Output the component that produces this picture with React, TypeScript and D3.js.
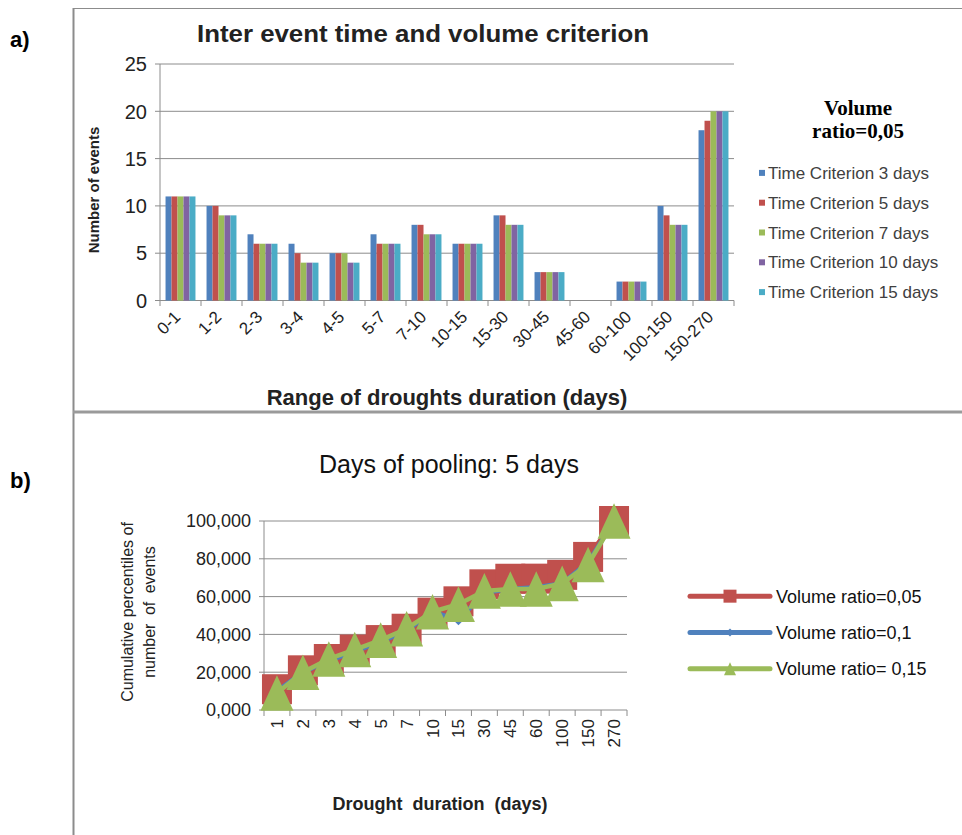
import { useEffect, useRef } from 'react';
import * as d3 from 'd3';

// a) number of events per duration range
const rangeLabels = ["0-1", "1-2", "2-3", "3-4", "4-5", "5-7", "7-10", "10-15", "15-30", "30-45", "45-60", "60-100", "100-150", "150-270"];
const criterionNames = ["Time Criterion 3 days", "Time Criterion 5 days", "Time Criterion 7 days", "Time Criterion 10 days", "Time Criterion 15 days"];
const tc3 = [11, 10, 7, 6, 5, 7, 8, 6, 9, 3, 0, 2, 10, 18];
const tc5 = [11, 10, 6, 5, 5, 6, 8, 6, 9, 3, 0, 2, 9, 19];
const tc7 = [11, 9, 6, 4, 5, 6, 7, 6, 8, 3, 0, 2, 8, 20];
const tc10 = [11, 9, 6, 4, 4, 6, 7, 6, 8, 3, 0, 2, 8, 20];
const tc15 = [11, 9, 6, 4, 4, 6, 7, 6, 8, 3, 0, 2, 8, 20];
const countTicks = [0, 5, 10, 15, 20, 25];

// b) cumulative percentiles, 5 days of pooling
const durations = ["1", "2", "3", "4", "5", "7", "10", "15", "30", "45", "60", "100", "150", "270"];
const ratioNames = ["Volume ratio=0,05", "Volume ratio=0,1", "Volume ratio= 0,15"];
const ratio005 = [11, 21, 27, 32, 37, 43, 51.5, 57.5, 66.5, 69.5, 69.5, 71.5, 81, 100];
const ratio01 = [10, 20, 26, 31, 36, 42, 52, 47.5, 62, 64, 65, 67, 78, 100];
const ratio015 = [9, 20, 27, 32, 37, 43, 52, 56, 63, 64, 64, 67, 77, 100];
const pctTicks = [0, 20, 40, 60, 80, 100];

const barColors = ["#4F81BD", "#C0504D", "#9BBB59", "#8064A2", "#4BACC6"];
const lineColors = ["#C0504D", "#4F81BD", "#9BBB59"];
const SANS = "'Liberation Sans', Arial, sans-serif";
const SERIF = "'Liberation Serif', 'Times New Roman', serif";

function marker(kind: string, x: number, y: number, s: number) {
  if (kind === "square") return `M${x - s / 2},${y - s / 2}h${s}v${s}h${-s}Z`;
  if (kind === "diamond") return `M${x},${y - s / 2}L${x + s / 2},${y}L${x},${y + s / 2}L${x - s / 2},${y}Z`;
  const h = s * 1.08;
  return `M${x},${y - h / 2}L${x + s / 2},${y + h / 2}L${x - s / 2},${y + h / 2}Z`;
}

// 20 -> "20,000"
const pctFormat = (v: number) => d3.format(".3f")(v).replace(".", ",");

export default function App() {
  const svgRef = useRef<SVGSVGElement>(null);

  useEffect(() => {
    if (!svgRef.current) return;
    const svg = d3.select(svgRef.current);
    svg.selectAll("*").remove();

    // panel frames
    svg.append("line").attr("x1", 73).attr("x2", 962).attr("y1", 8.5).attr("y2", 8.5).attr("stroke", "#8c8c8c");
    svg.append("line").attr("x1", 73.5).attr("x2", 73.5).attr("y1", 8).attr("y2", 835).attr("stroke", "#8c8c8c").attr("stroke-width", 2);
    svg.append("line").attr("x1", 73).attr("x2", 962).attr("y1", 412).attr("y2", 412).attr("stroke", "#9a9a9a").attr("stroke-width", 3);

    svg.append("text").attr("x", 10).attr("y", 47).text("a)")
      .attr("font-family", SANS).attr("font-weight", "bold").attr("font-size", 22);
    svg.append("text").attr("x", 10).attr("y", 488).text("b)")
      .attr("font-family", SANS).attr("font-weight", "bold").attr("font-size", 22);

    // ---------- a) grouped bars ----------
    const series = [tc3, tc5, tc7, tc10, tc15];
    const x0 = d3.scaleBand<string>().domain(rangeLabels).range([160, 734]).paddingInner(0.27).paddingOuter(0.135);
    const xt = d3.scaleBand<string>().domain(rangeLabels).range([160, 734]);
    const x1 = d3.scaleBand<number>().domain(d3.range(series.length)).range([0, x0.bandwidth()]);
    const y = d3.scaleLinear().domain([0, 25]).range([300.5, 64]);

    const a = svg.append("g");
    a.append("text").attr("x", 423).attr("y", 42).attr("text-anchor", "middle")
      .attr("font-family", SANS).attr("font-weight", "bold").attr("font-size", 24).attr("fill", "#222")
      .attr("textLength", 452).attr("lengthAdjust", "spacingAndGlyphs")
      .text("Inter event time and volume criterion");

    a.selectAll(".grid").data(countTicks).join("line")
      .attr("x1", 155).attr("x2", 734).attr("y1", d => y(d)).attr("y2", d => y(d))
      .attr("stroke", "#8c8c8c");
    a.selectAll(".ylab").data(countTicks).join("text")
      .attr("x", 147).attr("y", d => y(d)).attr("dy", "0.36em").attr("text-anchor", "end")
      .attr("font-family", SANS).attr("font-size", 20).attr("fill", "#222").text(d => d);
    a.append("line").attr("x1", 160).attr("x2", 160).attr("y1", 64).attr("y2", 300.5).attr("stroke", "#8c8c8c");

    series.forEach((vals, i) => {
      a.append("g").selectAll("rect").data(vals).join("rect")
        .attr("x", (d, j) => (x0(rangeLabels[j]) ?? 0) + (x1(i) ?? 0))
        .attr("width", x1.bandwidth())
        .attr("y", d => y(d))
        .attr("height", d => y(0) - y(d))
        .attr("fill", barColors[i]);
    });

    const bTicks = rangeLabels.map(c => xt(c) ?? 0).concat([734]);
    a.selectAll(".xtick").data(bTicks).join("line")
      .attr("x1", d => d).attr("x2", d => d).attr("y1", 300.5).attr("y2", 306).attr("stroke", "#8c8c8c");

    a.selectAll(".xlab").data(rangeLabels).join("text")
      .attr("transform", d => `translate(${(xt(d) ?? 0) + xt.bandwidth() / 2 + 1},${318}) rotate(-45)`)
      .attr("text-anchor", "end").attr("font-family", SANS).attr("font-size", 17).attr("fill", "#222")
      .text(d => d);

    a.append("text").attr("x", 447).attr("y", 405).attr("text-anchor", "middle")
      .attr("font-family", SANS).attr("font-weight", "bold").attr("font-size", 22).attr("fill", "#222")
      .text("Range of droughts duration (days)");
    a.append("text").attr("transform", "translate(99,190) rotate(-90)").attr("text-anchor", "middle")
      .attr("font-family", SANS).attr("font-weight", "bold").attr("font-size", 15).attr("fill", "#222")
      .text("Number of events");

    a.append("text").attr("x", 858).attr("y", 115).attr("text-anchor", "middle")
      .attr("font-family", SERIF).attr("font-weight", "bold").attr("font-size", 21).text("Volume");
    a.append("text").attr("x", 858).attr("y", 138).attr("text-anchor", "middle")
      .attr("font-family", SERIF).attr("font-weight", "bold").attr("font-size", 21).text("ratio=0,05");

    const legA = d3.scaleBand<number>().domain(d3.range(criterionNames.length)).range([158, 307]);
    criterionNames.forEach((n, i) => {
      const cy = (legA(i) ?? 0) + legA.bandwidth() / 2;
      a.append("rect").attr("x", 759).attr("y", cy - 3).attr("width", 6).attr("height", 6).attr("fill", barColors[i]);
      a.append("text").attr("x", 768).attr("y", cy).attr("dy", "0.36em")
        .attr("font-family", SANS).attr("font-size", 17).attr("fill", "#404040").text(n);
    });

    // ---------- b) cumulative lines ----------
    const lines = [ratio005, ratio01, ratio015];
    const kinds = ["square", "diamond", "triangle"];
    const sizes = [30, 10, 33];
    const xb = d3.scaleBand<string>().domain(durations).range([264, 627]);
    const yb = d3.scaleLinear().domain([0, 100]).range([710, 521]);

    const b = svg.append("g");
    b.append("text").attr("x", 449).attr("y", 473).attr("text-anchor", "middle")
      .attr("font-family", SANS).attr("font-size", 25).attr("fill", "#111").text("Days of pooling: 5 days");

    b.selectAll(".grid").data(pctTicks).join("line")
      .attr("x1", 259).attr("x2", 627).attr("y1", d => yb(d)).attr("y2", d => yb(d)).attr("stroke", "#8c8c8c");
    b.selectAll(".ylab").data(pctTicks).join("text")
      .attr("x", 251).attr("y", d => yb(d)).attr("dy", "0.36em").attr("text-anchor", "end")
      .attr("font-family", SANS).attr("font-size", 18).attr("fill", "#222")
      .text(d => pctFormat(d));
    b.append("line").attr("x1", 264).attr("x2", 264).attr("y1", 521).attr("y2", 710).attr("stroke", "#8c8c8c");
    const bt = durations.map(c => xb(c) ?? 0).concat([627]);
    b.selectAll(".xtick").data(bt).join("line")
      .attr("x1", d => d).attr("x2", d => d).attr("y1", 710).attr("y2", 716).attr("stroke", "#8c8c8c");
    b.selectAll(".xlab").data(durations).join("text")
      .attr("transform", d => `translate(${(xb(d) ?? 0) + xb.bandwidth() / 2 + 6},${719}) rotate(-90)`)
      .attr("text-anchor", "end").attr("font-family", SANS).attr("font-size", 17).attr("fill", "#222")
      .text(d => d);

    const cx = (j: number) => (xb(durations[j]) ?? 0) + xb.bandwidth() / 2;
    lines.forEach((vals, i) => {
      const line = d3.line<number>().x((d, j) => cx(j)).y(d => yb(d));
      b.append("path").datum(vals).attr("d", line).attr("fill", "none")
        .attr("stroke", lineColors[i]).attr("stroke-width", 4.5).attr("stroke-linejoin", "round");
      b.append("g").selectAll("path").data(vals).join("path")
        .attr("d", (d, j) => marker(kinds[i], cx(j), yb(d), sizes[i]))
        .attr("fill", lineColors[i]);
    });

    b.append("text").attr("x", 440).attr("y", 810).attr("text-anchor", "middle")
      .attr("font-family", SANS).attr("font-weight", "bold").attr("font-size", 18).attr("fill", "#222")
      .attr("word-spacing", 5).text("Drought duration (days)");
    b.append("text").attr("transform", "translate(133,612) rotate(-90)").attr("text-anchor", "middle")
      .attr("font-family", SANS).attr("font-size", 16).attr("fill", "#222").text("Cumulative percentiles of");
    b.append("text").attr("transform", "translate(155,612) rotate(-90)").attr("text-anchor", "middle")
      .attr("font-family", SANS).attr("font-size", 16).attr("fill", "#222").attr("word-spacing", 4).text("number of events");

    const legB = d3.scaleBand<number>().domain(d3.range(ratioNames.length)).range([578, 687]);
    const legSizes = [13, 8, 12];
    ratioNames.forEach((n, i) => {
      const cy = (legB(i) ?? 0) + legB.bandwidth() / 2;
      b.append("line").attr("x1", 690).attr("x2", 770).attr("y1", cy).attr("y2", cy)
        .attr("stroke", lineColors[i]).attr("stroke-width", 5).attr("stroke-linecap", "round");
      b.append("path").attr("d", marker(kinds[i], 730, cy, legSizes[i])).attr("fill", lineColors[i]);
      b.append("text").attr("x", 776).attr("y", cy).attr("dy", "0.36em")
        .attr("font-family", SANS).attr("font-size", 18).attr("fill", "#111").text(n);
    });
  }, []);

  return (
    <svg
      ref={svgRef}
      width={962}
      height={835}
      style={{ position: 'absolute', left: 0, top: 0, background: '#fff' }}
    />
  );
}
